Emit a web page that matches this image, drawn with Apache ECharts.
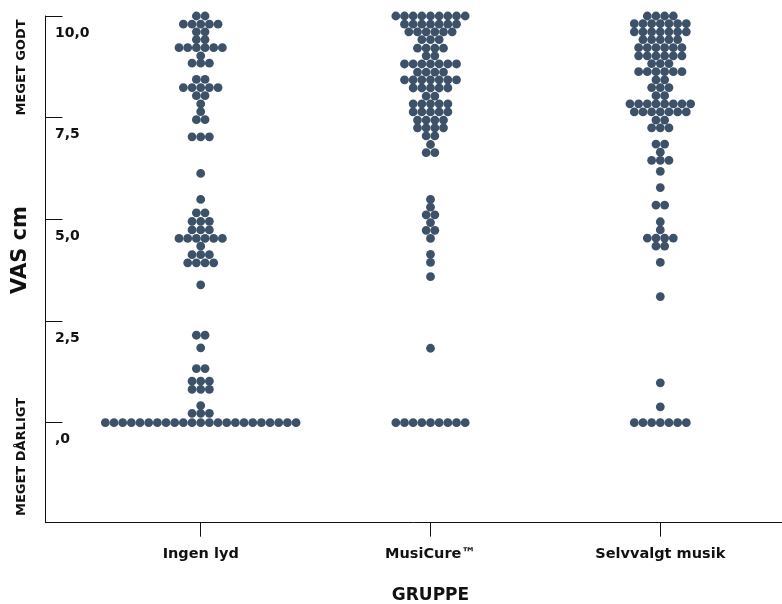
<!DOCTYPE html>
<html>
<head>
<meta charset="utf-8">
<script src="https://cdn.jsdelivr.net/npm/echarts@6/dist/echarts.min.js"></script>
<style>
  html, body { margin: 0; padding: 0; background: #fff; }
  #chart { width: 782px; height: 604px; }
</style>
</head>
<body>
<div id="chart"></div>
<script>
// groups on the x axis (positions 1, 2, 3)
const groups = ['Ingen lyd', 'MusiCure™', 'Selvvalgt musik'];
const yTicks = [0, 2.5, 5, 7.5, 10];

// each row of dots: a VAS value and how many answers fell in it
const ingenLydValues = [10.0, 9.80, 9.61, 9.42, 9.22, 9.02, 8.84, 8.44, 8.24, 8.04, 7.84, 7.65, 7.45, 7.03,
  6.13, 5.49, 5.16, 4.95, 4.74, 4.53, 4.34, 4.13, 3.93, 3.39, 2.15, 1.84, 1.33, 1.02, 0.82, 0.42, 0.23, 0];
const ingenLydCounts = [2, 5, 2, 2, 6, 1, 3, 2, 5, 2, 1, 1, 2, 3,
  1, 1, 2, 3, 3, 6, 1, 3, 4, 1, 2, 1, 2, 3, 3, 1, 3, 23];

const musiCureValues = [10.0, 9.80, 9.61, 9.42, 9.21, 9.02, 8.82, 8.62, 8.43, 8.23, 8.03, 7.84, 7.64, 7.44,
  7.25, 7.05, 6.84, 6.64, 5.49, 5.30, 5.11, 4.92, 4.73, 4.53, 4.14, 3.94, 3.59, 1.83, 0];
const musiCureCounts = [9, 7, 6, 3, 4, 2, 7, 4, 7, 5, 2, 5, 5, 4,
  4, 2, 1, 2, 1, 1, 2, 1, 2, 1, 1, 1, 1, 1, 9];

const selvvalgtValues = [10.0, 9.81, 9.61, 9.42, 9.22, 9.02, 8.83, 8.63, 8.43, 8.24, 8.04, 7.84, 7.64, 7.44,
  7.25, 6.85, 6.65, 6.45, 6.18, 5.78, 5.35, 4.94, 4.74, 4.54, 4.34, 3.94, 3.10, 0.98, 0.39, 0];
const selvvalgtCounts = [4, 7, 7, 5, 6, 6, 3, 6, 2, 3, 2, 8, 7, 2,
  3, 2, 1, 3, 1, 1, 2, 1, 1, 4, 2, 1, 1, 1, 1, 7];

const DOT_COLOR = '#3d5268';
const DOT_STEP = 8.67;   // px between dot centres in a row
const DOT_R = 4.4;
const FONT = 'DejaVu Sans';

// spread the dots of each row symmetrically around the group position
function buildRows(pos, values, counts) {
  const items = [];
  values.forEach((v, r) => {
    const n = counts[r];
    for (let i = 0; i < n; i++) {
      items.push([pos, v, i - (n - 1) / 2]);
    }
  });
  return items;
}

const dots = [].concat(
  buildRows(1, ingenLydValues, ingenLydCounts),
  buildRows(2, musiCureValues, musiCureCounts),
  buildRows(3, selvvalgtValues, selvvalgtCounts)
);

const chart = echarts.init(document.getElementById('chart'));

const option = {
  animation: false,
  grid: { left: 45.5, right: 0, top: 16, bottom: 81.3 },
  xAxis: {
    type: 'value',
    min: 0.3246,
    max: 3.5296,
    splitLine: { show: false },
    axisLine: { show: true, onZero: false, lineStyle: { color: '#111', width: 1 } },
    axisTick: { show: true, customValues: [1, 2, 3], length: 14, lineStyle: { color: '#111', width: 1 } },
    axisLabel: {
      customValues: [1, 2, 3],
      formatter: (v) => groups[Math.round(v) - 1],
      margin: 24,
      color: '#111',
      fontFamily: FONT,
      fontWeight: 'bold',
      fontSize: 14.5
    }
  },
  yAxis: {
    type: 'value',
    min: -2.46,
    max: 10,
    splitLine: { show: false },
    axisLine: { show: true, onZero: false, lineStyle: { color: '#111', width: 1 } },
    axisTick: { show: true, inside: true, customValues: yTicks, length: 17, lineStyle: { color: '#111', width: 1 } },
    axisLabel: {
      inside: true,
      customValues: yTicks,
      formatter: (v) => v === 0 ? ',0' : v.toFixed(1).replace('.', ','),
      align: 'left',
      verticalAlign: 'top',
      padding: [10, 0, 0, 0],
      margin: 9.5,
      color: '#111',
      fontFamily: FONT,
      fontWeight: 'bold',
      fontSize: 14
    }
  },
  graphic: [
    {
      type: 'text', x: 21, y: 250, rotation: Math.PI / 2,
      style: { text: 'VAS cm', font: 'bold 21px "DejaVu Sans"', fill: '#111', align: 'center', verticalAlign: 'middle' }
    },
    {
      type: 'text', x: 22, y: 67.5, rotation: Math.PI / 2,
      style: { text: 'MEGET GODT', font: 'bold 13px "DejaVu Sans"', fill: '#111', align: 'center', verticalAlign: 'middle' }
    },
    {
      type: 'text', x: 22, y: 457, rotation: Math.PI / 2,
      style: { text: 'MEGET DÅRLIGT', font: 'bold 13px "DejaVu Sans"', fill: '#111', align: 'center', verticalAlign: 'middle' }
    },
    {
      type: 'text', x: 430.5, y: 596,
      style: { text: 'GRUPPE', font: 'bold 17px "DejaVu Sans"', fill: '#111', align: 'center', verticalAlign: 'middle' }
    }
  ],
  series: [
    {
      type: 'custom',
      data: dots,
      encode: { x: 0, y: 1 },
      renderItem: (params, api) => {
        const p = api.coord([api.value(0), api.value(1)]);
        return {
          type: 'circle',
          shape: { cx: p[0] + api.value(2) * DOT_STEP, cy: p[1], r: DOT_R },
          style: { fill: DOT_COLOR }
        };
      }
    }
  ]
};

chart.setOption(option);
</script>
</body>
</html>
